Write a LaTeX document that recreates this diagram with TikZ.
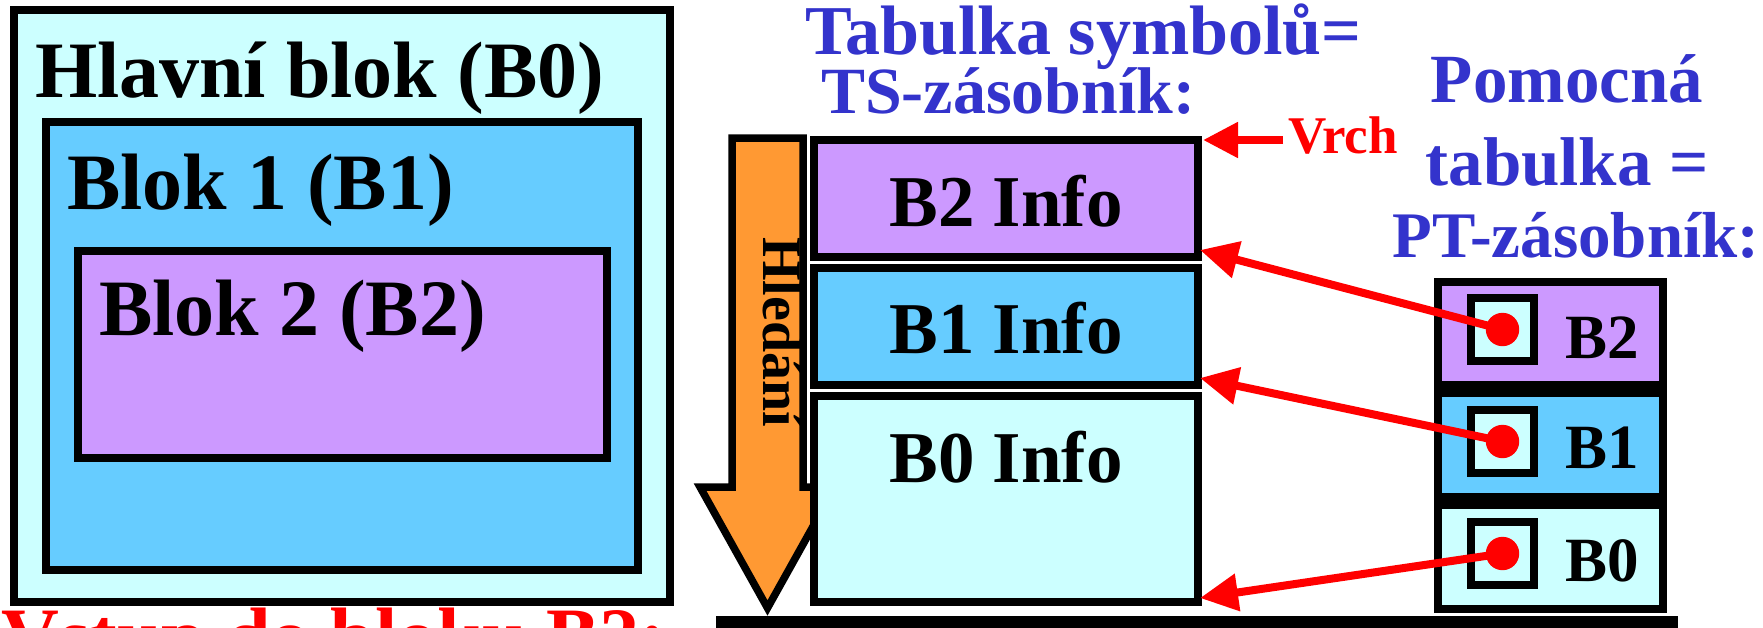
\documentclass[tikz,border=0pt]{standalone}
\usepackage{fontspec}
\setmainfont{Liberation Serif}
\usetikzlibrary{calc,arrows.meta}
\definecolor{cyanlt}{HTML}{CCFFFF}
\definecolor{bluemid}{HTML}{66CCFF}
\definecolor{lilac}{HTML}{CC99FF}
\definecolor{orng}{HTML}{FF9933}
\definecolor{ttlblue}{HTML}{3333CC}
\definecolor{rd}{HTML}{FF0000}
\begin{document}
\begin{tikzpicture}[x=0.5pt,y=-0.5pt,
  frame/.style={draw=black, line width=4pt, inner sep=0pt, outer sep=0pt, anchor=north west},
  lbl/.style={inner sep=0pt, outer sep=0pt},
  hugefont/.style={font=\bfseries\fontsize{40pt}{40pt}\selectfont},
  infofont/.style={font=\bfseries\fontsize{36.5pt}{36.5pt}\selectfont},
  titlefont/.style={font=\bfseries\fontsize{#1}{#1}\selectfont, text=ttlblue},
  ptfont/.style={font=\bfseries\fontsize{31.5pt}{31.5pt}\selectfont},
  ptr/.style={draw=rd, line width=4pt, -{Triangle[length=19pt,width=18pt]}},
  dot/.style={circle, fill=rd, minimum size=16.7pt, inner sep=0pt},
]
\clip (0,0) rectangle (1763,627);
\fill[white] (0,0) rectangle (1763,627);

% nested program blocks
\node[frame, fill=cyanlt, minimum width=328pt, minimum height=296pt] (blk0) at (14,10) {};
\node[frame, fill=bluemid, minimum width=296pt, minimum height=224pt] (blk1) at (46,122) {};
\node[frame, fill=lilac, minimum width=264.5pt, minimum height=103.5pt] (blk2) at (78,251) {};
\node[lbl, hugefont, anchor=base west] (blk0t) at (35,97) {Hlavní blok (B0)};
\node[lbl, hugefont, anchor=base west] (blk1t) at (67,209) {Blok 1 (B1)};
\node[lbl, hugefont, anchor=base west] (blk2t) at (99,335) {Blok 2 (B2)};
\node[lbl, hugefont, anchor=base west, text=rd] (entry) at (2,663) {Vstup do bloku B2:};

% search direction arrow
\draw[fill=orng, line width=3.75pt, line join=miter]
  (732,138) -- (803,138) -- (803,487) -- (835,487) -- (767.5,608) -- (700,487) -- (732,487) -- cycle;
\node[lbl, anchor=base west, rotate=-90, font=\bfseries\fontsize{28pt}{28pt}\selectfont] (search) at (763,237) {Hledání};

% symbol table stack
\node[frame, fill=lilac, minimum width=192pt, minimum height=58.5pt] (tsB2) at (814,140) {};
\node[frame, fill=bluemid, minimum width=192pt, minimum height=58.5pt] (tsB1) at (814,268) {};
\node[frame, fill=cyanlt, minimum width=192pt, minimum height=103pt] (tsB0) at (814,396) {};
\node[lbl, infofont, anchor=base] (tsB2t) at (1006,226) {B2 Info};
\node[lbl, infofont, anchor=base] (tsB1t) at (1006,353) {B1 Info};
\node[lbl, infofont, anchor=base] (tsB0t) at (1006,482) {B0 Info};

% stack floor
\fill[black] (716,616) rectangle (1678,640);

% titles
\node[lbl, titlefont=35pt, anchor=base west] (ts1) at (805,54) {Tabulka symbolů=};
\node[lbl, titlefont=33pt, anchor=base west] (ts2) at (821,113) {TS-zásobník:};
\node[lbl, titlefont=34.5pt, anchor=base] (pt1) at (1567,102) {Pomocná};
\node[lbl, titlefont=34.5pt, anchor=base] (pt2) at (1567,185) {tabulka =};
\node[lbl, titlefont=32.5pt, anchor=base] (pt3) at (1576,257) {PT-zásobník:};

% top-of-stack marker
\node[lbl, anchor=base west, text=rd, font=\bfseries\fontsize{26.5pt}{26.5pt}\selectfont] (vrch) at (1288,153) {Vrch};
\coordinate (vrchfrom) at (1283,140);
\draw[draw=rd, line width=4pt, -{Triangle[length=17.5pt,width=17pt]}] (vrchfrom) -- ($(tsB2.north east)+(5,0)$);

% auxiliary table stack
\node[frame, fill=lilac, minimum width=112.5pt, minimum height=51.5pt] (ptB2) at (1438,282) {};
\node[frame, fill=bluemid, minimum width=112.5pt, minimum height=52pt] (ptB1) at (1438,393) {};
\node[frame, fill=cyanlt, minimum width=112.5pt, minimum height=52pt] (ptB0) at (1438,505) {};
\node[frame, fill=cyanlt, minimum width=31.5pt, minimum height=31.5pt] (sqB2) at (1471,298) {};
\node[frame, fill=cyanlt, minimum width=31.5pt, minimum height=31.5pt] (sqB1) at (1471,410) {};
\node[frame, fill=cyanlt, minimum width=31.5pt, minimum height=31.5pt] (sqB0) at (1471,522) {};
\node[lbl, ptfont, anchor=base west] (ptB2t) at (1565,358) {B2};
\node[lbl, ptfont, anchor=base west] (ptB1t) at (1565,468) {B1};
\node[lbl, ptfont, anchor=base west] (ptB0t) at (1565,581) {B0};

% pointers into the symbol table
\draw[ptr] (sqB2.center) -- ($(tsB2.south east)+(2,-7)$);
\draw[ptr] (sqB1.center) -- ($(tsB1.south east)+(2,-7)$);
\draw[ptr] (sqB0.center) -- ($(tsB0.south east)+(2,-4)$);
\node[dot] (dB2) at (sqB2.center) {};
\node[dot] (dB1) at (sqB1.center) {};
\node[dot] (dB0) at (sqB0.center) {};
\end{tikzpicture}
\end{document}
